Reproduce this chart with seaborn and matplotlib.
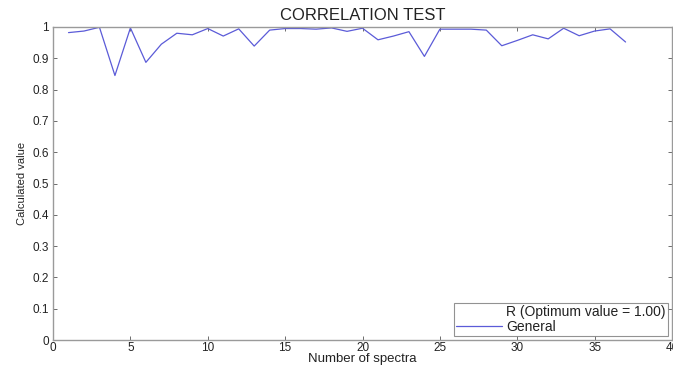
import numpy as np
import pandas as pd
import matplotlib
matplotlib.use("Agg")
import matplotlib.pyplot as plt
import seaborn as sns

spectra = list(range(1, 38))
general = [0.982, 0.987, 0.999, 0.845, 0.997, 0.887, 0.945, 0.980, 0.975, 0.995,
           0.971, 0.994, 0.939, 0.990, 0.995, 0.995, 0.993, 0.997, 0.986, 0.996,
           0.959, 0.971, 0.985, 0.906, 0.993, 0.993, 0.993, 0.990, 0.940, 0.957,
           0.975, 0.962, 0.996, 0.972, 0.987, 0.994, 0.952]
optimum = [1.0] * len(spectra)
x_ticks = [0, 5, 10, 15, 20, 25, 30, 35, 40]
y_ticks = [0, 0.1, 0.2, 0.3, 0.4, 0.5, 0.6, 0.7, 0.8, 0.9, 1]
y_tick_labels = ["0", "0.1", "0.2", "0.3", "0.4", "0.5", "0.6", "0.7", "0.8", "0.9", "1"]

sns.set_style("white")
plt.rcParams["font.family"] = ["Liberation Sans", "DejaVu Sans"]

df = pd.DataFrame({"spectra": spectra, "general": general, "optimum": optimum})

fig = plt.figure(figsize=(6.73, 3.67), dpi=100)
ax = fig.add_axes([0.0788, 0.0735, 0.9197, 0.853])

sns.lineplot(data=df, x="spectra", y="optimum", ax=ax, color="white", lw=0.8,
             label="R (Optimum value = 1.00)", zorder=1)
sns.lineplot(data=df, x="spectra", y="general", ax=ax, color="#5b5bd8", lw=0.9,
             label="General", zorder=2)

ax.set_xlim(0, 40)
ax.set_ylim(0, 1)
ax.set_xticks(x_ticks)
ax.set_yticks(y_ticks)
ax.set_yticklabels(y_tick_labels)
ax.tick_params(direction="in", length=3, width=0.6, color="#555555",
               labelsize=8.5, labelcolor="#222222", top=True, right=True,
               bottom=True, left=True)
ax.tick_params(axis="x", pad=1.5)
ax.tick_params(axis="y", pad=3)
for s in ax.spines.values():
    s.set_color("#9a9a9a")
    s.set_linewidth(1.0)

ax.set_title("CORRELATION TEST", fontsize=12, color="#222222", pad=5)
ax.set_xlabel("Number of spectra", fontsize=9.5, color="#222222", labelpad=-1)
ax.set_ylabel("Calculated value", fontsize=8, color="#222222", labelpad=4)

leg = ax.legend(loc="lower right", fontsize=10, frameon=True, fancybox=False,
                borderpad=0.15, handlelength=3.3, handletextpad=0.3,
                labelspacing=0.05, borderaxespad=0.3)
leg.get_frame().set_edgecolor("#777777")
leg.get_frame().set_linewidth(0.8)
for t in leg.get_texts():
    t.set_color("#222222")

fig.savefig("out.png", dpi=100)
